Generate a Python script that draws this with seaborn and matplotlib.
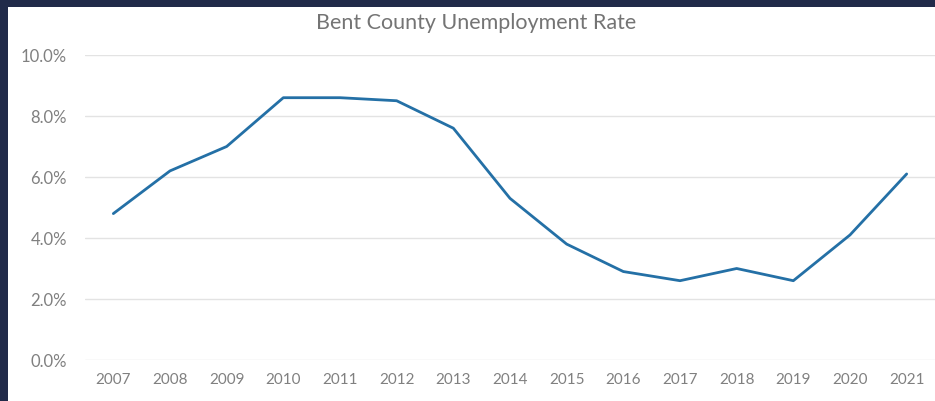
import matplotlib
matplotlib.use("Agg")
import matplotlib.pyplot as plt
import matplotlib.patches as mpatches
from matplotlib.ticker import PercentFormatter
import seaborn as sns
import pandas as pd

years = ["2007", "2008", "2009", "2010", "2011", "2012", "2013", "2014",
         "2015", "2016", "2017", "2018", "2019", "2020", "2021"]
rates = [4.8, 6.2, 7.0, 8.6, 8.6, 8.5, 7.6, 5.3, 3.8, 2.9, 2.6, 3.0, 2.6, 4.1, 6.1]
y_ticks = [0, 2, 4, 6, 8, 10]
title = "Bent County Unemployment Rate"

sns.set_theme(style="white")
plt.rcParams["font.family"] = ["Lato", "DejaVu Sans"]

df = pd.DataFrame({"year": years, "rate": rates})

fig = plt.figure(figsize=(9.35, 4.02), dpi=100, facecolor="#212a49")
bg = mpatches.Rectangle((8 / 935, 0), 1, (402 - 8) / 402,
                        transform=fig.transFigure,
                        facecolor="white", edgecolor="none", zorder=-10)
fig.patches.append(bg)
ax = fig.add_axes([85 / 935, 1 - 361 / 402, 1 - 85 / 935, (361 - 56) / 402])
ax.set_zorder(5)
ax.set_facecolor("white")

sns.lineplot(data=df, x="year", y="rate", ax=ax, color="#2470a6", linewidth=2.0, sort=False)

ax.set_xlim(-0.5, len(years) - 0.5)
ax.set_ylim(0, 10)
ax.set_yticks(y_ticks)
ax.yaxis.set_major_formatter(PercentFormatter(decimals=1))
ax.grid(axis="y", color="#e3e3e3", linewidth=1)
ax.grid(axis="x", visible=False)
for s in ax.spines.values():
    s.set_visible(False)
ax.tick_params(axis="both", length=0, colors="#808080", labelsize=11)
ax.tick_params(axis="y", pad=13, labelsize=12)
ax.tick_params(axis="x", pad=9)
ax.set_xlabel("")
ax.set_ylabel("")

fig.text(476 / 935, 1 - 23 / 402, title, ha="center", va="center",
         fontsize=15.5, color="#747474", zorder=10)

fig.savefig("out.png", dpi=100, facecolor=fig.get_facecolor())
